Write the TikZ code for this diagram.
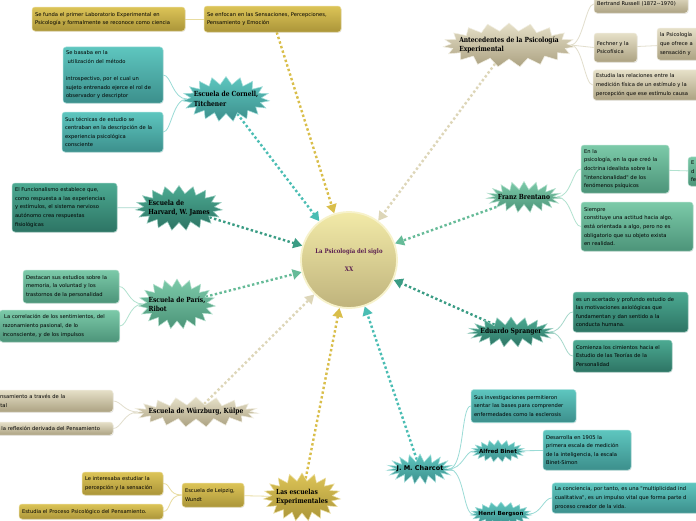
\documentclass[tikz,border=0pt]{standalone}
\usepackage{fontspec}
\usetikzlibrary{shapes.symbols,arrows.meta,shadows,backgrounds}
\newfontfamily\boxfont{DejaVu Sans}
\newfontfamily\titfont{DejaVu Serif}[FakeStretch=0.85]
\definecolor{goldT}{HTML}{DCC457}\definecolor{goldB}{HTML}{AB9539}\definecolor{goldL}{HTML}{E8DCA0}\definecolor{goldA}{HTML}{D9BE4A}
\definecolor{beigeT}{HTML}{E6E0C8}\definecolor{beigeB}{HTML}{ACA282}\definecolor{beigeL}{HTML}{E2DECD}\definecolor{beigeA}{HTML}{DDD6B8}
\definecolor{tealT}{HTML}{5EC6BF}\definecolor{tealB}{HTML}{3C8F8C}\definecolor{tealL}{HTML}{9ADBD6}\definecolor{tealA}{HTML}{4ABDB3}
\definecolor{grnT}{HTML}{4CAA92}\definecolor{grnB}{HTML}{2D7464}\definecolor{grnL}{HTML}{A6D8CB}\definecolor{grnA}{HTML}{3A9C84}
\definecolor{lgrT}{HTML}{7CCAA9}\definecolor{lgrB}{HTML}{4C9479}\definecolor{lgrL}{HTML}{B1E2CF}\definecolor{lgrA}{HTML}{66BB98}
\definecolor{circT}{HTML}{F2EAA8}\definecolor{circB}{HTML}{BFB37C}\definecolor{purp}{HTML}{5A1E50}

\begin{document}
\begin{tikzpicture}[x=1pt,y=-1pt,
  box/.style={rounded corners=3pt,inner xsep=3pt,inner ysep=4pt,align=left,draw=#1T!55!white,line width=.5pt,
    top color=#1T,bottom color=#1B,drop shadow={opacity=.2,shadow xshift=.6pt,shadow yshift=-.8pt},
    font=\boxfont\fontsize{5.2}{8.6}\selectfont},
  burst/.style={starburst,starburst points=19,starburst point height=8pt,random starburst=0,
    inner xsep=-60pt,inner ysep=-20pt,align=left,draw=#1T!55!white,line width=.5pt,top color=#1T,bottom color=#1B,
    font=\titfont\bfseries\fontsize{7}{9.3}\selectfont},
  sansbold/.style={font=\boxfont\bfseries\fontsize{#1}{8}\selectfont},
  link/.style={draw=#1L,line width=.8pt},
  arr/.style={draw=#1A,line width=2.4pt,dash pattern=on 2.4pt off 2.4pt,
    -{Triangle[length=9pt,width=10pt,fill=#1A]}}]
  \useasboundingbox (0,0) rectangle (696,520);
  \clip (0,0) rectangle (696,520);

  \node (circ) at (349,260) [circle,minimum size=96pt,inner sep=0pt,draw=circT!60!white,line width=1.8pt,
    top color=circT,bottom color=circB,align=center,text=purp,font=\titfont\bfseries\fontsize{6.3}{7}\selectfont]
    {La Psicología del siglo\\[11pt]XX};

  \node (lab) at (108.5,19) [box=gold,text width=147pt,minimum height=24pt]
    {Se funda el primer Laboratorio Experimental en\\Psicología y formalmente se reconoce como ciencia};
  \node (enfocan) at (272.5,19) [box=gold,text width=131pt,minimum height=26pt]
    {Se enfocan en las Sensaciones, Percepciones,\\Pensamiento y Emoción};

  \node (antec) at (509,45) [burst=beige,minimum width=132pt,minimum height=44pt]
    {Antecedentes de la Psicología\\Experimental};
  \node (russell) at (641,4) [box=beige,text width=88pt,minimum height=18pt] {Bertrand Russell (1872--1970)};
  \node (fechner) at (615.5,47.5) [box=beige,text width=37pt,minimum height=29pt] {Fechner y la\\Psicofísica};
  \node (fech1) at (692,44) [box=beige,text width=64pt,minimum height=32pt] {la Psicología\\que ofrece a\\sensación y};
  \node (estudia) at (652,85) [box=beige,text width=112pt,minimum height=30pt]
    {Estudia las relaciones entre la\\medición física de un estímulo y la\\percepción que ese estímulo causa};

  \node (cornell) at (226,99) [burst=teal,minimum width=87pt,minimum height=45pt] {Escuela de Cornell,\\Titchener};
  \node (corn1) at (113,75) [box=teal,text width=94pt,minimum height=56pt]
    {Se basaba en la\\\ utilización del método\\[8.6pt]introspectivo, por el cual un\\sujeto entrenado ejerce el rol de\\observador y descriptor};
  \node (corn2) at (112.5,132) [box=teal,text width=95pt,minimum height=40pt]
    {Sus técnicas de estudio se\\centraban en la descripción de la\\experiencia psicológica\\consciente};

  \node (harvard) at (179,208) [burst=grn,minimum width=87pt,minimum height=45pt] {Escuela de\\Harvard, W. James};
  \node (harv1) at (64.5,207.5) [box=grn,text width=99pt,minimum height=49pt]
    {El Funcionalismo establece que,\\como respuesta a las experiencias\\y estímulos, el sistema nervioso\\autónomo crea respuestas\\fisiológicas};

  \node (paris) at (177,304) [burst=lgr,minimum width=77pt,minimum height=50pt] {Escuela de París,\\Ribot};
  \node (par1) at (71,286.5) [box=lgr,text width=90pt,minimum height=33pt]
    {Destacan sus estudios sobre la\\memoria, la voluntad y los\\trastornos de la personalidad};
  \node (par2) at (59.5,326) [box=lgr,text width=114pt,minimum height=32pt]
    {\ La correlación de los sentimientos, del\\razonamiento pasional, de lo\\inconsciente, y de los impulsos};

  \node (wurz) at (196,412) [burst=beige,minimum width=125pt,minimum height=30pt] {Escuela de Würzburg, Külpe};
  \node (wurz1) at (53.5,401) [box=beige,text width=113pt,minimum height=22pt] {ensamiento a través de la\\ntal};
  \node (wurz2) at (53.5,428.5) [box=beige,text width=113pt,minimum height=13pt] {s la reflexión derivada del Pensamiento};

  \node (escuelas) at (302,497) [burst=gold,minimum width=77pt,minimum height=48pt] {Las escuelas\\Experimentales};
  \node (leipzig) at (213,495) [box=gold,text width=56pt,minimum height=24pt] {Escuela de Leipzig,\\Wundt};
  \node (leip1) at (122.5,483.5) [box=gold,text width=75pt,minimum height=23pt]
    {Le interesaba estudiar la\\percepción y la sensación};
  \node (leip2) at (91,511.5) [box=gold,text width=138pt,minimum height=15pt]
    {Estudia el Proceso Psicológico del Pensamiento.};

  \node (charcot) at (420,469) [burst=teal,sansbold=6.5,minimum width=66pt,minimum height=30pt] {J. M. Charcot};
  \node (char1) at (523.5,406) [box=teal,text width=99pt,minimum height=33pt]
    {Sus investigaciones permitieron\\sentar las bases para comprender\\enfermedades como la esclerosis};
  \node (binet) at (498,451) [burst=teal,sansbold=5.6,starburst point height=5pt,minimum width=54pt,minimum height=22pt] {Alfred Binet};
  \node (binet1) at (587,450) [box=teal,text width=82pt,minimum height=40pt]
    {Desarrolla en 1905 la\\primera escala de medición\\de la inteligencia, la escala\\Binet-Simon};
  \node (bergson) at (501,514) [burst=teal,sansbold=5.6,starburst point height=5pt,minimum width=61pt,minimum height=24pt] {Henri Bergson};
  \node (berg1) at (637,498) [box=teal,text width=164pt,minimum height=30pt]
    {La conciencia, por tanto, es una "multiplicidad ind\\cualitativa", es un impulso vital que forma parte d\\proceso creador de la vida.};

  \node (spranger) at (511,332) [burst=grn,minimum width=86pt,minimum height=30pt] {Eduardo Spranger};
  \node (spr1) at (630.5,312) [box=grn,text width=109pt,minimum height=40pt]
    {es un acertado y profundo estudio de\\las motivaciones axiológicas que\\fundamentan y dan sentido a la\\conducta humana.};
  \node (spr2) at (622.5,356) [box=grn,text width=93pt,minimum height=32pt]
    {Comienza los cimientos hacia el\\Estudio de las Teorías de la\\Personalidad};

  \node (brentano) at (524,197) [burst=lgr,minimum width=75pt,minimum height=31pt] {Franz Brentano};
  \node (bren1) at (625,169) [box=lgr,text width=82pt,minimum height=48pt]
    {En la\\psicología, en la que creó la\\doctrina idealista sobre la\\"intencionalidad" de los\\fenómenos psíquicos};
  \node (bren1b) at (708,171.5) [box=lgr,text width=34pt,minimum height=27pt] {E\\d\\fe};
  \node (bren2) at (637,226.5) [box=lgr,text width=106pt,minimum height=49pt]
    {Siempre\\constituye una actitud hacia algo,\\está orientada a algo, pero no es\\obligatorio que su objeto exista\\en realidad.};

  \begin{scope}[on background layer]
    \fill[white] (0,0) rectangle (696,520);
    \draw[link=gold] (lab) -- (enfocan);
    \draw[link=beige] (antec.east) .. controls +(12,0) and +(-8,0) .. (russell.west);
    \draw[link=beige] (antec.east) -- (fechner.west);
    \draw[link=beige] (antec.east) .. controls +(12,0) and +(-8,0) .. (estudia.west);
    \draw[link=beige] (fechner) -- (fech1);
    \draw[link=teal] (cornell.west) .. controls +(-14,0) and +(8,0) .. (corn1.east);
    \draw[link=teal] (cornell.west) .. controls +(-14,0) and +(8,0) .. (corn2.east);
    \draw[link=grn] (harv1) -- (harvard);
    \draw[link=lgr] (paris.west) .. controls +(-14,0) and +(8,0) .. (par1.east);
    \draw[link=lgr] (paris.west) .. controls +(-14,0) and +(8,0) .. (par2.east);
    \draw[link=beige] (wurz.west) .. controls +(-14,0) and +(8,0) .. (wurz1.east);
    \draw[link=beige] (wurz.west) .. controls +(-14,0) and +(8,0) .. (wurz2.east);
    \draw[link=gold] (leipzig) -- (escuelas);
    \draw[link=gold] (leipzig.west) .. controls +(-14,0) and +(8,0) .. (leip1.east);
    \draw[link=gold] (leipzig.west) .. controls +(-14,0) and +(8,0) .. (leip2.east);
    \draw[link=teal] (charcot.east) .. controls +(16,0) and +(-10,0) .. (char1.west);
    \draw[link=teal] (charcot.east) .. controls +(14,0) and +(-8,0) .. (binet.west);
    \draw[link=teal] (charcot.east) .. controls +(16,0) and +(-10,0) .. (bergson.west);
    \draw[link=teal] (binet) -- (binet1);
    \draw[link=teal] (bergson.east) .. controls +(12,0) and +(-8,0) .. (berg1.west);
    \draw[link=grn] (spranger.east) .. controls +(14,0) and +(-8,0) .. (spr1.west);
    \draw[link=grn] (spranger.east) .. controls +(14,0) and +(-8,0) .. (spr2.west);
    \draw[link=lgr] (brentano.east) .. controls +(14,0) and +(-8,0) .. (bren1.west);
    \draw[link=lgr] (brentano.east) .. controls +(14,0) and +(-8,0) .. (bren2.west);
    \draw[link=lgr] (bren1) -- (bren1b);

    \draw[arr=gold] (enfocan) -- (circ);
    \draw[arr=beige] (antec) -- (circ);
    \draw[arr=teal] (cornell) -- (circ);
    \draw[arr=grn] (harvard) -- (circ);
    \draw[arr=lgr] (paris) -- (circ);
    \draw[arr=beige] (wurz) -- (circ);
    \draw[arr=gold] (escuelas) -- (circ);
    \draw[arr=teal] (charcot) -- (circ);
    \draw[arr=grn] (spranger) -- (circ);
    \draw[arr=lgr] (brentano) -- (circ);
  \end{scope}
\end{tikzpicture}
\end{document}
